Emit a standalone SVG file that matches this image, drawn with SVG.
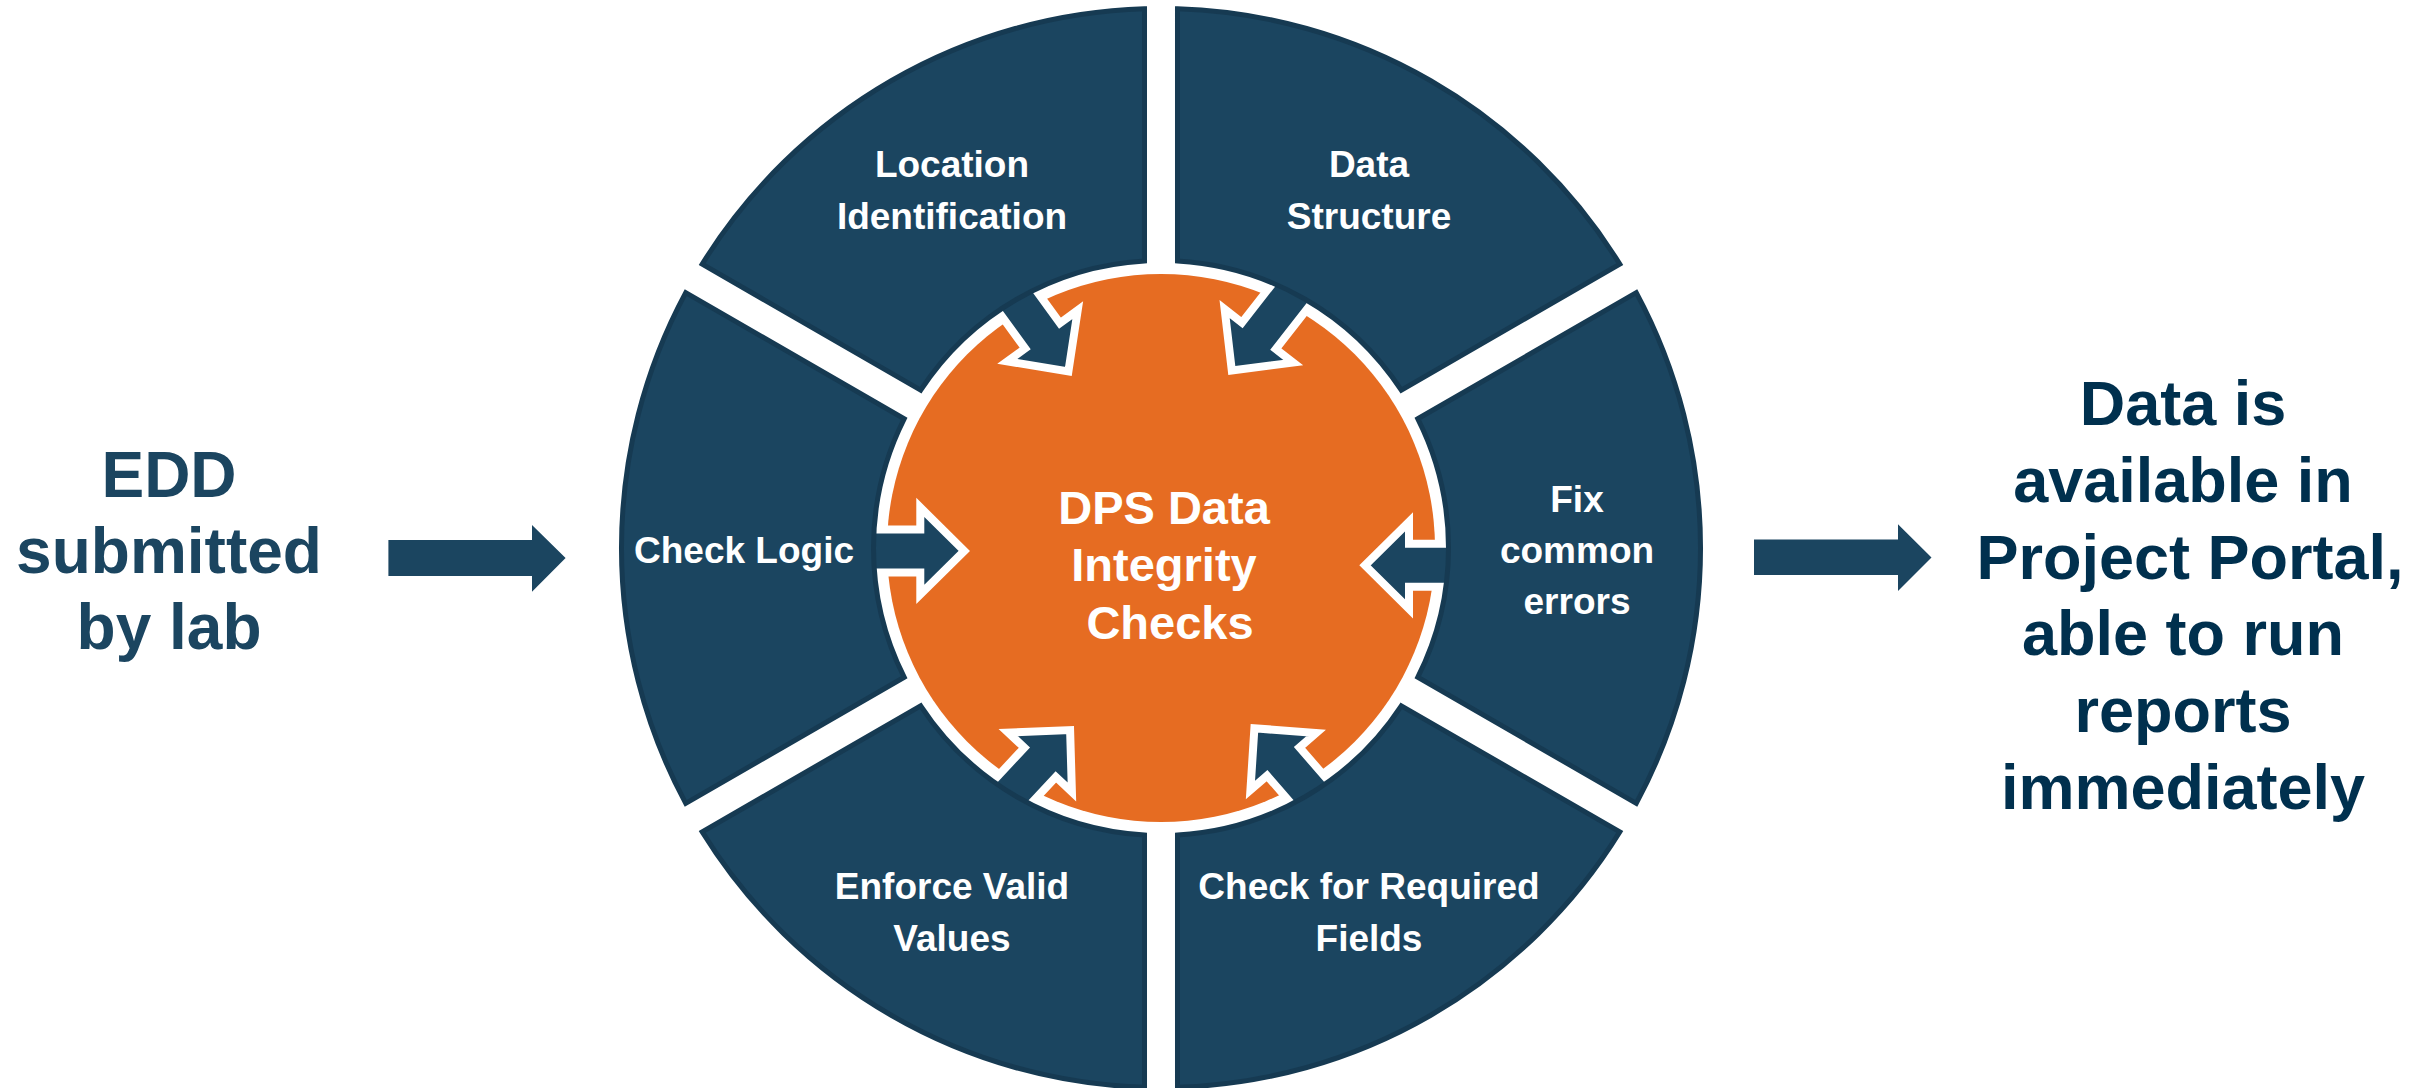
<svg xmlns="http://www.w3.org/2000/svg" xmlns:xlink="http://www.w3.org/1999/xlink" width="2436" height="1088" viewBox="0 0 2436 1088">
<style>
  .seg { fill:#1B4560; stroke:#163A52; stroke-width:5; }
  .inarr { fill:#1B4560; stroke:#FFFFFF; stroke-width:8; stroke-linejoin:miter; }
  .bigarr { fill:#1B4560; }
  .lbl { font-family:"Liberation Sans", Arial, sans-serif; font-weight:bold; font-size:37px; fill:#FFFFFF; text-anchor:middle; }
  .ctr { font-family:"Liberation Sans", Arial, sans-serif; font-weight:bold; font-size:47px; fill:#FFFFFF; text-anchor:middle; }
  .side { font-family:"Liberation Sans", Arial, sans-serif; font-weight:bold; font-size:64px; fill:#1B4560; text-anchor:middle; }
  .out { font-family:"Liberation Sans", Arial, sans-serif; font-weight:bold; font-size:63px; fill:#00304E; text-anchor:middle; }
</style>
<defs>
  <path id="segShape" d="M 256.82,-129.23 L 475.26,-255.35 A 539.5 539.5 0 0 1 475.26,255.35 L 256.82,129.23 A 287.5 287.5 0 0 0 256.82,-129.23 Z"/>
  <path id="inArrow" d="M -130,-21.5 L -44,-21.5 L -44,-43.5 L 0,0 L -44,43.5 L -44,21.5 L -130,21.5 Z"/>
</defs>
<rect x="0" y="0" width="2436" height="1088" fill="#FFFFFF"/>

<g id="node-center">
  <circle cx="1161" cy="548" r="274" fill="#E66C22"/>
  <text class="ctr" x="1164" y="524">DPS Data</text>
  <text class="ctr" x="1164" y="581">Integrity</text>
  <text class="ctr" x="1170" y="639">Checks</text>
</g>

<g id="connectors">
  <use xlink:href="#inArrow" class="inarr" transform="translate(964.3,550.9) rotate(0)"/>
  <use xlink:href="#inArrow" class="inarr" transform="translate(1365,565.3) rotate(180)"/>
  <use xlink:href="#inArrow" class="inarr" transform="translate(1068.4,371.4) rotate(54)"/>
  <use xlink:href="#inArrow" class="inarr" transform="translate(1231.8,370.5) rotate(128)"/>
  <use xlink:href="#inArrow" class="inarr" transform="translate(1070.1,730.1) rotate(-47)"/>
  <use xlink:href="#inArrow" class="inarr" transform="translate(1254.4,728.3) rotate(-131)"/>
  <path class="bigarr" d="M 388.4,540 L 532,540 L 532,525 L 565.6,558 L 532,591.7 L 532,576 L 388.4,576 Z"/>
  <path class="bigarr" d="M 1754,539.5 L 1898,539.5 L 1898,524.3 L 1931.5,557.5 L 1898,591 L 1898,575 L 1754,575 Z"/>
</g>

<g id="seg-location-identification">
  <use xlink:href="#segShape" class="seg" transform="translate(1161,548) rotate(-120)"/>
  <text class="lbl" x="952" y="177">Location</text>
  <text class="lbl" x="952" y="229">Identification</text>
</g>
<g id="seg-data-structure">
  <use xlink:href="#segShape" class="seg" transform="translate(1161,548) rotate(-60)"/>
  <text class="lbl" x="1369" y="177">Data</text>
  <text class="lbl" x="1369" y="229">Structure</text>
</g>
<g id="seg-fix-common-errors">
  <use xlink:href="#segShape" class="seg" transform="translate(1161,548) rotate(0)"/>
  <text class="lbl" x="1577" y="512">Fix</text>
  <text class="lbl" x="1577" y="563">common</text>
  <text class="lbl" x="1577" y="614">errors</text>
</g>
<g id="seg-check-required-fields">
  <use xlink:href="#segShape" class="seg" transform="translate(1161,548) rotate(60)"/>
  <text class="lbl" x="1369" y="899">Check for Required</text>
  <text class="lbl" x="1369" y="951">Fields</text>
</g>
<g id="seg-enforce-valid-values">
  <use xlink:href="#segShape" class="seg" transform="translate(1161,548) rotate(120)"/>
  <text class="lbl" x="952" y="899">Enforce Valid</text>
  <text class="lbl" x="952" y="951">Values</text>
</g>
<g id="seg-check-logic">
  <use xlink:href="#segShape" class="seg" transform="translate(1161,548) rotate(180)"/>
  <text class="lbl" x="744" y="563">Check Logic</text>
</g>

<g id="node-edd">
  <text class="side" x="169" y="497">EDD</text>
  <text class="side" x="169" y="573">submitted</text>
  <text class="side" x="169" y="649">by lab</text>
</g>

<g id="node-output">
  <text class="out" x="2183" y="425">Data is</text>
  <text class="out" x="2183" y="502">available in</text>
  <text class="out" x="2190" y="579">Project Portal,</text>
  <text class="out" x="2183" y="655">able to run</text>
  <text class="out" x="2183" y="732">reports</text>
  <text class="out" x="2183" y="809">immediately</text>
</g>
</svg>
